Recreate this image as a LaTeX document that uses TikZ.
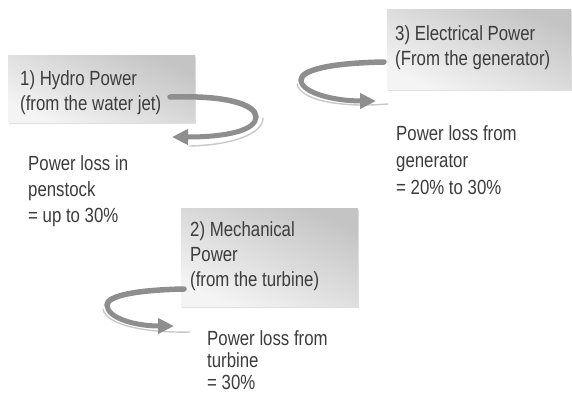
\documentclass[tikz,border=0pt]{standalone}
\usepackage{fontspec}
\newfontfamily\labfont[FakeStretch=0.82]{Liberation Sans}
\usetikzlibrary{arrows.meta,shadows}
\definecolor{txt}{HTML}{3C3C3C}
\definecolor{boxdark}{HTML}{C4C4C4}
\definecolor{boxlight}{HTML}{F4F4F4}
\definecolor{ribbon}{HTML}{8E8E8E}
\definecolor{ribbonlight}{HTML}{C8C8C8}
\tikzset{
  lab/.style={anchor=north west, inner sep=0pt, align=left, text=txt,
    font=\labfont\fontsize{20.5}{25}\selectfont},
  stagebox/.style={draw=none, top color=boxdark, bottom color=boxlight,
    shading angle=-25, drop shadow={opacity=0.25, shadow xshift=1pt, shadow yshift=-2pt}},
  ribtop/.style={draw=ribbon, line width=5.5pt, line cap=round},
  ribbot/.style={draw=ribbon, line width=5pt,
    -{Triangle[length=16pt,width=15pt]}},
  ribedge/.style={draw=ribbonlight, line width=1.4pt, line cap=round}
}
\begin{document}
\begin{tikzpicture}[x=1pt,y=-1pt]
\useasboundingbox (0,0) rectangle (572,394);
% boxes
\path[stagebox] (8,55) rectangle (195,122);
\path[stagebox] (387,9) rectangle (571,89);
\path[stagebox] (181,208) rectangle (358,306);
% box texts
\node[lab] (b1) at (20,70) {1) Hydro Power\\(from the water jet)};
\node[lab] (b3) at (395,25) {3) Electrical Power\\(From the generator)};
\node[lab] (b2) at (190,221) {2) Mechanical\\Power\\(from the turbine)};
% loss texts
\node[lab, font=\labfont\fontsize{20.5}{26}\selectfont] (l1) at (28,155) {Power loss in\\penstock\\= up to 30\%};
\node[lab, font=\labfont\fontsize{20.5}{27}\selectfont] (l3) at (396,125) {Power loss from\\generator\\= 20\% to 30\%};
\node[lab, font=\labfont\fontsize{20.5}{22}\selectfont] (l2) at (207,330) {Power loss from\\turbine\\= 30\%};
% arrow 1 (right of box 1, curving back to the left)
\coordinate (a1s) at (170,97);
\coordinate (a1m) at (256,117);
\coordinate (a1e) at (172,137);
\draw[ribedge] (190,146) .. controls (232,145) and (263,134) .. (263,118);
\draw[ribtop] (a1s) .. controls (228,95) and (256,105) .. (a1m);
\draw[ribbot] (a1m) .. controls (256,130) and (228,137) .. (a1e);
% arrow 3 (left of box 3, curving back to the right)
\coordinate (a3s) at (384,62);
\coordinate (a3m) at (301,80);
\coordinate (a3e) at (376,101);
\draw[ribedge] (297,84) .. controls (300,100) and (340,108) .. (388,104);
\draw[ribtop] (a3s) .. controls (330,63) and (301,70) .. (a3m);
\draw[ribbot] (a3m) .. controls (301,93) and (335,101) .. (a3e);
% arrow 2 (left of box 2, curving back to the right)
\coordinate (a2s) at (184,289);
\coordinate (a2m) at (107,305);
\coordinate (a2e) at (174,326);
\draw[ribedge] (103,309) .. controls (106,325) and (145,333) .. (190,332);
\draw[ribtop] (a2s) .. controls (135,290) and (107,296) .. (a2m);
\draw[ribbot] (a2m) .. controls (107,318) and (135,326) .. (a2e);
\end{tikzpicture}
\end{document}
